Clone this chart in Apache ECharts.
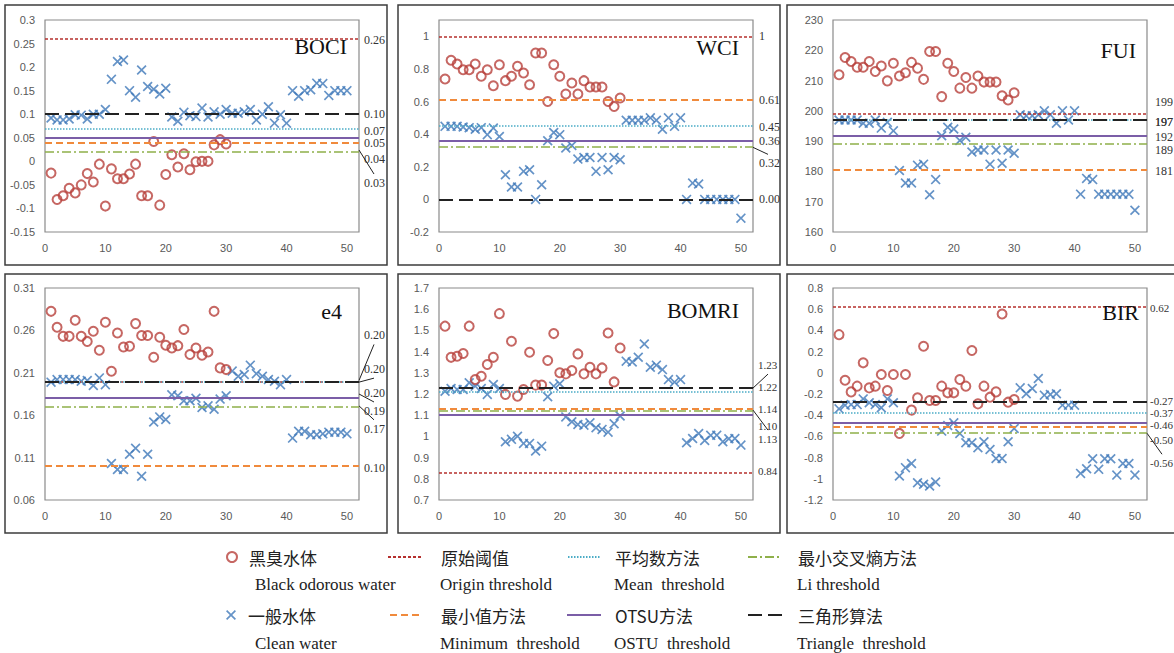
<!DOCTYPE html>
<html lang="zh">
<head>
<meta charset="UTF-8">
<title>黑臭水体阈值</title>
<style>
  html, body { margin: 0; padding: 0; background: #fff; }
  #main { width: 1174px; height: 653px; }
</style>
<script src="https://cdn.jsdelivr.net/npm/echarts@6/dist/echarts.min.js"></script>
</head>
<body>
<div id="main"></div>
<script>
// sample values, x = sample number (1..30 black odorous, 1..50 clean)
var bociBlack = [-0.025, -0.081, -0.073, -0.057, -0.067, -0.05, -0.026, -0.044, -0.006, -0.095, -0.016, -0.037, -0.037, -0.027, -0.006, -0.073, -0.073, 0.042, -0.093, -0.028, 0.014, -0.012, 0.016, -0.018, -0.001, 0, 0, 0.035, 0.046, 0.037];
var bociClean = [0.092, 0.088, 0.088, 0.09, 0.099, 0.098, 0.09, 0.1, 0.1, 0.11, 0.174, 0.212, 0.215, 0.15, 0.136, 0.194, 0.159, 0.153, 0.143, 0.155, 0.094, 0.085, 0.104, 0.097, 0.095, 0.113, 0.094, 0.105, 0.1, 0.11, 0.102, 0.102, 0.105, 0.11, 0.088, 0.1, 0.116, 0.081, 0.099, 0.081, 0.15, 0.138, 0.15, 0.152, 0.166, 0.165, 0.14, 0.15, 0.15, 0.15];
var wciBlack = [0.738, 0.853, 0.83, 0.795, 0.795, 0.83, 0.755, 0.795, 0.697, 0.826, 0.728, 0.755, 0.816, 0.775, 0.703, 0.898, 0.898, 0.6, 0.826, 0.755, 0.646, 0.714, 0.646, 0.728, 0.689, 0.689, 0.689, 0.6, 0.57, 0.622];
var wciClean = [0.448, 0.448, 0.448, 0.444, 0.44, 0.43, 0.44, 0.397, 0.437, 0.386, 0.151, 0.076, 0.076, 0.172, 0.182, 0, 0.09, 0.36, 0.41, 0.397, 0.315, 0.33, 0.247, 0.257, 0.257, 0.172, 0.257, 0.182, 0.257, 0.243, 0.485, 0.485, 0.485, 0.485, 0.5, 0.485, 0.43, 0.5, 0.448, 0.5, 0, 0.1, 0.094, 0, 0, 0, 0, 0, 0, -0.115];
var fuiBlack = [211.9, 217.6, 216.3, 214.4, 214.4, 216.3, 213, 214.8, 209.9, 215.7, 211.5, 212.6, 216, 214.1, 210.4, 219.6, 219.6, 204.7, 215.7, 213, 207.5, 211, 207.5, 211.5, 209.5, 209.5, 209.5, 205, 203.6, 206];
var fuiClean = [197, 197, 197, 197, 195.9, 195.9, 197, 194.3, 196.2, 193.4, 180.3, 176.2, 176.2, 182, 182.4, 172.3, 177.3, 191.8, 194.6, 194, 190.2, 191.3, 186.4, 187.1, 187.1, 182.4, 187.1, 182.7, 187.1, 186, 198.7, 198.4, 198.4, 198.7, 200, 198.7, 195.9, 200, 197, 200, 172.5, 177.7, 177.3, 172.5, 172.5, 172.5, 172.5, 172.5, 172.5, 167.2];
var e4Black = [0.2825, 0.2637, 0.253, 0.253, 0.272, 0.253, 0.247, 0.259, 0.2366, 0.2696, 0.2119, 0.257, 0.2405, 0.2413, 0.268, 0.254, 0.254, 0.2284, 0.252, 0.2425, 0.2393, 0.242, 0.261, 0.2315, 0.2393, 0.2307, 0.2346, 0.2825, 0.2158, 0.2138];
var e4Clean = [0.199, 0.202, 0.202, 0.202, 0.202, 0.2, 0.201, 0.195, 0.204, 0.196, 0.103, 0.096, 0.096, 0.114, 0.121, 0.088, 0.114, 0.152, 0.158, 0.155, 0.184, 0.183, 0.177, 0.177, 0.18, 0.169, 0.171, 0.167, 0.179, 0.183, 0.212, 0.206, 0.208, 0.219, 0.209, 0.206, 0.202, 0.2, 0.196, 0.202, 0.133, 0.141, 0.141, 0.137, 0.137, 0.138, 0.14, 0.14, 0.14, 0.138];
var bomriBlack = [1.52, 1.373, 1.378, 1.391, 1.52, 1.268, 1.284, 1.339, 1.373, 1.579, 1.198, 1.449, 1.19, 1.221, 1.397, 1.242, 1.242, 1.358, 1.485, 1.3, 1.295, 1.311, 1.389, 1.295, 1.326, 1.295, 1.323, 1.488, 1.257, 1.417];
var bomriClean = [1.213, 1.226, 1.221, 1.221, 1.253, 1.237, 1.226, 1.198, 1.245, 1.226, 0.975, 0.986, 1.001, 0.967, 0.967, 0.931, 0.954, 1.187, 1.237, 1.248, 1.092, 1.069, 1.056, 1.053, 1.064, 1.041, 1.033, 1.02, 1.06, 1.096, 1.355, 1.351, 1.373, 1.436, 1.326, 1.336, 1.315, 1.268, 1.256, 1.268, 0.97, 0.99, 1.014, 0.981, 1.005, 1.006, 0.975, 0.989, 0.99, 0.959];
var birBlack = [0.36, -0.07, -0.18, -0.126, 0.094, -0.142, -0.126, -0.016, -0.167, -0.016, -0.572, -0.016, -0.352, -0.236, 0.25, -0.261, -0.261, -0.126, -0.189, -0.189, -0.063, -0.126, 0.21, -0.293, -0.126, -0.23, -0.18, 0.555, -0.277, -0.252];
var birClean = [-0.34, -0.305, -0.3, -0.3, -0.246, -0.283, -0.3, -0.33, -0.246, -0.283, -0.974, -0.895, -0.855, -1.037, -1.052, -1.068, -1.03, -0.55, -0.497, -0.472, -0.572, -0.66, -0.66, -0.707, -0.65, -0.723, -0.808, -0.808, -0.65, -0.525, -0.142, -0.198, -0.148, -0.054, -0.211, -0.205, -0.198, -0.305, -0.305, -0.305, -0.949, -0.905, -0.811, -0.911, -0.811, -0.811, -0.965, -0.855, -0.855, -0.965];

// thresholds, order: origin, minimum, mean, otsu, li, triangle
var bociThr = [0.26, 0.036, 0.065, 0.047, 0.024, 0.10];
var bociThrText = ['0.26', '0.04', '0.07', '0.05', '0.03', '0.10'];
var wciThr = [1, 0.61, 0.446, 0.358, 0.319, 0];
var wciThrText = ['1', '0.61', '0.45', '0.36', '0.32', '0.00'];
var fuiThr = [199, 180.5, 197, 191.7, 189.1, 197];
var fuiThrText = ['199', '181', '197', '192', '189', '197'];
var e4Thr = [0.197, 0.099, 0.199, 0.185, 0.171, 0.201];
var e4ThrText = ['0.20', '0.10', '0.20', '0.19', '0.17', '0.20'];
var bomriThr = [0.835, 1.133, 1.213, 1.096, 1.124, 1.228];
var bomriThrText = ['0.84', '1.14', '1.22', '1.10', '1.13', '1.23'];
var birThr = [0.62, -0.51, -0.38, -0.47, -0.57, -0.27];
var birThrText = ['0.62', '-0.50', '-0.37', '-0.46', '-0.56', '-0.27'];

// y axis: min, max, interval
var bociY = [-0.15, 0.3, 0.05];
var wciY = [-0.2, 1.1, 0.2];
var fuiY = [160, 230, 10];
var e4Y = [0.06, 0.31, 0.05];
var bomriY = [0.7, 1.7, 0.1];
var birY = [-1.2, 0.8, 0.2];

var thrNames = ['原始阈值', '最小值方法', '平均数方法', 'OTSU方法', '最小交叉熵方法', '三角形算法'];
var thrStyles = [
    { color: '#b5302e', width: 1.5, type: [3, 2] },
    { color: '#f08a3c', width: 2, type: [7, 4] },
    { color: '#4bacc6', width: 1.5, type: [1.5, 1.5] },
    { color: '#7b5ea7', width: 2, type: 'solid' },
    { color: '#8fb04a', width: 1.5, type: [9, 3, 2, 3] },
    { color: '#222222', width: 2, type: [14, 6] }
];

// layout of the six panels
var gridW = 314, gridH = 212;
var panels = [
    { name: 'BOCI', black: bociBlack, clean: bociClean, thr: bociThr, thrText: bociThrText, y: bociY,
      left: 45, top: 20, box: [5, 5, 382, 260], title: [347, 46], fs: 12,
      shift: [1, 15, 0, 4, 33, 0], leader: [0, 0, 0, 0, 1, 0], gap: 5 },
    { name: 'WCI', black: wciBlack, clean: wciClean, thr: wciThr, thrText: wciThrText, y: wciY,
      left: 439, top: 20, box: [398, 5, 382, 260], title: [739, 47], fs: 12,
      shift: [0, 0, 0, 0, 16, 0], leader: [0, 0, 0, 0, 1, 0], gap: 6 },
    { name: 'FUI', black: fuiBlack, clean: fuiClean, thr: fuiThr, thrText: fuiThrText, y: fuiY,
      left: 833, top: 20, box: [787, 5, 400, 260], title: [1136, 50], fs: 12,
      shift: [-12, 1, 2, 1, 6, 2], leader: [0, 0, 0, 0, 0, 0], gap: 8 },
    { name: 'e4', black: e4Black, clean: e4Clean, thr: e4Thr, thrText: e4ThrText, y: e4Y,
      left: 45, top: 288, box: [5, 274, 382, 259], title: [342, 311], fs: 12,
      shift: [9, 1, -13, 17, 23, -45], leader: [0, 0, 1, 1, 1, 1], gap: 5 },
    { name: 'BOMRI', black: bomriBlack, clean: bomriClean, thr: bomriThr, thrText: bomriThrText, y: bomriY,
      left: 439, top: 288, box: [398, 274, 382, 259], title: [739, 310], fs: 11,
      shift: [0, 1, -4, 10, 29, -23], leader: [0, 0, 0, 0, 1, 1], gap: 5 },
    { name: 'BIR', black: birBlack, clean: birClean, thr: birThr, thrText: birThrText, y: birY,
      left: 833, top: 288, box: [787, 274, 400, 259], title: [1139, 312], fs: 11,
      shift: [1, 13, 0, 2, 30, 0], leader: [0, 0, 0, 0, 1, 0], gap: 3 }
];

var crossPath = 'path://M0,1.2L1.2,0L5,3.8L8.8,0L10,1.2L6.2,5L10,8.8L8.8,10L5,6.2L1.2,10L0,8.8L3.8,5Z';
var labelFont = "'Liberation Sans Narrow', 'Liberation Sans', sans-serif";
var serif = "'Liberation Serif', 'Times New Roman', serif";
var cjk = "'Noto Sans CJK SC', sans-serif";

var grids = [], xAxes = [], yAxes = [], series = [];
panels.forEach(function (p, i) {
    grids.push({
        left: p.left, top: p.top, width: gridW, height: gridH,
        show: true, borderColor: '#8a8a8a', borderWidth: 1.2, backgroundColor: 'transparent',
        outerBoundsMode: 'none'
    });
    xAxes.push({
        type: 'value', gridIndex: i, min: 0, max: 52, interval: 10,
        axisLine: { show: false }, axisTick: { show: false }, splitLine: { show: false },
        axisLabel: { color: '#595959', fontSize: 11, fontFamily: labelFont, margin: 10, showMaxLabel: false }
    });
    yAxes.push({
        type: 'value', gridIndex: i, min: p.y[0], max: p.y[1], interval: p.y[2],
        axisLine: { show: false }, axisTick: { show: false }, splitLine: { show: false },
        axisLabel: { color: '#595959', fontSize: 11, fontFamily: labelFont, margin: 10,
            showMaxLabel: p.name === 'WCI' ? false : null }
    });
    thrNames.forEach(function (nm, k) {
        series.push({
            name: nm, type: 'line', xAxisIndex: i, yAxisIndex: i, symbol: 'none', z: 2,
            lineStyle: thrStyles[k], itemStyle: { color: thrStyles[k].color },
            data: [],
            markLine: {
                silent: true, symbol: ['none', 'none'], label: { show: false },
                lineStyle: thrStyles[k],
                emphasis: { disabled: true },
                data: [{ yAxis: p.thr[k] }]
            }
        });
    });
    series.push({
        name: '黑臭水体', type: 'scatter', xAxisIndex: i, yAxisIndex: i, z: 4,
        symbol: 'circle', symbolSize: 9,
        itemStyle: { color: 'rgba(255,255,255,0)', borderColor: '#b8413c', borderWidth: 2 },
        data: p.black.map(function (v, k) { return [k + 1, v]; })
    });
    series.push({
        name: '一般水体', type: 'scatter', xAxisIndex: i, yAxisIndex: i, z: 3,
        symbol: crossPath, symbolSize: 10,
        itemStyle: { color: '#3f78b9' },
        data: p.clean.map(function (v, k) { return [k + 1, v]; })
    });
});

// legend: Chinese name with icon, English name below
var legendSpots = [
    { name: '黑臭水体', en: 'Black odorous water', left: 226, w: 24, h: 10, pad: 0, row: 0, isLine: false },
    { name: '原始阈值', en: 'Origin threshold', left: 387, w: 34, h: 12, pad: 14, row: 0, isLine: true },
    { name: '平均数方法', en: 'Mean\u00a0 threshold', left: 567, w: 32, h: 12, pad: 10, row: 0, isLine: true },
    { name: '最小交叉熵方法', en: 'Li threshold', left: 747, w: 34, h: 12, pad: 11, row: 0, isLine: true },
    { name: '一般水体', en: 'Clean water', left: 226, w: 24, h: 10, pad: 0, row: 1, isLine: false },
    { name: '最小值方法', en: 'Minimum\u00a0 threshold', left: 389, w: 32, h: 12, pad: 14, row: 1, isLine: true },
    { name: 'OTSU方法', en: 'OSTU\u00a0 threshold', left: 566, w: 34, h: 12, pad: 9, row: 1, isLine: true },
    { name: '三角形算法', en: 'Triangle\u00a0 threshold', left: 747, w: 34, h: 12, pad: 11, row: 1, isLine: true }
];
var rowCn = [557, 615], rowEn = [584, 643];

var legends = legendSpots.map(function (s) {
    var lg = {
        data: [s.name], left: s.left, top: rowCn[s.row] - 10, padding: 0,
        itemWidth: s.w, itemHeight: s.h, selectedMode: false,
        textStyle: { fontFamily: cjk, fontSize: 17, color: '#222', lineHeight: 20, padding: [0, 0, 0, s.pad] }
    };
    if (s.isLine) lg.itemStyle = { opacity: 0 };
    return lg;
});

var myChart = echarts.init(document.getElementById('main'), null, { renderer: 'svg' });
myChart.setOption({
    animation: false,
    backgroundColor: '#fff',
    grid: grids,
    xAxis: xAxes,
    yAxis: yAxes,
    legend: legends,
    series: series
});

// panel frames, titles, threshold labels and leader lines
var graphics = [];
panels.forEach(function (p, i) {
    graphics.push({
        type: 'rect', silent: true, z: 0,
        shape: { x: p.box[0], y: p.box[1], width: p.box[2], height: p.box[3] },
        style: { fill: 'none', stroke: '#3c3c3c', lineWidth: 1.5 }
    });
    graphics.push({
        type: 'text', silent: true, z: 10, x: p.title[0], y: p.title[1],
        style: { text: p.name, fontFamily: serif, fontSize: 22, fill: '#111', align: 'right', verticalAlign: 'middle' }
    });
    var right = p.left + gridW;
    p.thr.forEach(function (v, k) {
        var y = myChart.convertToPixel({ yAxisIndex: i }, v);
        var ly = y + p.shift[k];
        graphics.push({
            type: 'text', silent: true, z: 10, x: right + p.gap, y: ly,
            style: { text: p.thrText[k], fontFamily: serif, fontSize: p.fs, fill: '#333', align: 'left', verticalAlign: 'middle' }
        });
        if (p.leader[k]) {
            graphics.push({
                type: 'line', silent: true, z: 10,
                shape: { x1: right, y1: y, x2: right + 15, y2: ly + (p.shift[k] < 0 ? 9 : -9) },
                style: { stroke: '#222', lineWidth: 1 }
            });
        }
    });
});
legendSpots.forEach(function (s) {
    graphics.push({
        type: 'text', silent: true, x: s.left + s.w + 5 + s.pad, y: rowEn[s.row],
        style: { text: s.en, fontFamily: serif, fontSize: 17, fill: '#222', align: 'left', verticalAlign: 'middle' }
    });
});
myChart.setOption({ graphic: graphics });
</script>
</body>
</html>
